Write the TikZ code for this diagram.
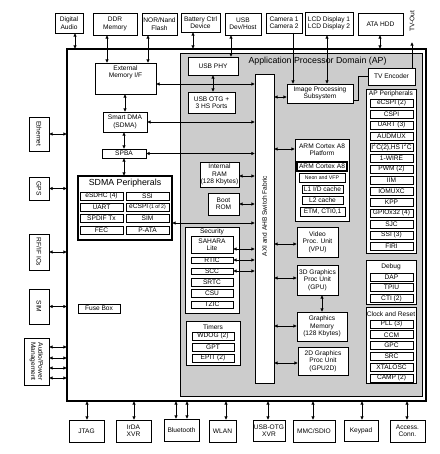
\documentclass[tikz,border=0pt]{standalone}
\usepackage{fontspec}
\setmainfont{Liberation Sans}
\usetikzlibrary{arrows.meta}
\newcommand\fs{\fontsize{6.6}{7.3}\selectfont}
\newcommand\fsmall{\fontsize{5.2}{6}\selectfont}
\newcommand\ftitle{\fontsize{8.8}{10}\selectfont}
\newcommand\B[7][]{\node[bx,minimum width={(#5)-(#3)},minimum height={(#6)-(#4)},#1] (#2) at ({((#3)+(#5))/2},{((#4)+(#6))/2}) {#7};}
\newcommand\R[7][]{\B[#1]{#2}{#3}{#4}{#5}{#6}{}\node[lbl,rotate=-90] (#2T) at (#2) {#7};}
\tikzset{
  bx/.style={draw,line width=0.7pt,fill=white,inner sep=0pt,outer sep=0pt,align=center,font=\fs},
  cell/.style={line width=0.7pt},
  thk/.style={line width=1.8pt},
  lbl/.style={inner sep=0pt,align=center,font=\fs},
  ttl/.style={inner sep=0pt,align=center,font=\ftitle},
  dar/.style={{Latex[length=3.6pt,width=3.6pt]}-{Latex[length=3.6pt,width=3.6pt]},line width=0.8pt},
  sar/.style={-{Latex[length=3.6pt,width=3.6pt]},line width=0.8pt},
  ln/.style={line width=0.8pt}
}
\begin{document}
\begin{tikzpicture}[x=1pt,y=-1pt]
\fill[white] (0,0) rectangle (439,454);
\useasboundingbox (0,0) rectangle (439,454);
% frames
\B[line width=2pt]{outer}{67}{49}{426}{401}{}
\B[fill=black!20,line width=0.7pt]{ap}{180}{53}{422}{396}{}
% top external
\B{da}{55}{13}{83}{33}{Digital\\Audio}
\B{ddr}{93}{13}{137}{35}{DDR\\Memory}
\B{nor}{142}{13}{177}{35}{NOR/Nand\\Flash}
\B{bat}{181}{13}{220}{32}{Battery Ctrl\\Device}
\B{usb}{225}{13}{261}{35}{USB\\Dev/Host}
\B{cam}{266}{13}{302}{33}{Camera 1\\Camera 2}
\B{lcd}{305}{12}{353}{35}{LCD Display 1\\LCD Display 2}
\B{ata}{358}{13}{403}{35}{ATA HDD}
\node[lbl,rotate=90] (tvoT) at (412,21) {TV-Out};
% left external
\R{eth}{29}{117}{49}{151}{Ethernet}
\R{gps}{29}{177}{49}{200}{GPS}
\R{rf}{29}{234}{49}{270}{RF/IF ICs}
\R{sim}{29}{289}{49}{324}{SIM}
\R{apm}{24}{338}{49}{385}{Audio/Power\\Management}
% bottom external
\B{jtag}{69}{420}{104}{442}{JTAG}
\B{irda}{116}{420}{151}{442}{IrDA\\XVR}
\B{bt}{164}{419}{199}{441}{Bluetooth}
\B{wlan}{209}{420}{236}{442}{WLAN}
\B{usbx}{253}{420}{285}{441}{USB-OTG\\XVR}
\B{mmc}{293}{420}{335}{442}{MMC/SDIO}
\B{kp}{344}{420}{378}{441}{Keypad}
\B{acc}{390}{420}{425}{442}{Access.\\Conn.}
% left inner
\B{emi}{95}{63}{156}{94}{}
\node[lbl] (emiT) at (125.5,72) {External\\Memory I/F};
\B{sdma}{103}{112}{147}{132}{Smart DMA\\(SDMA)}
\B{spba}{102}{149}{146}{158}{SPBA}
\B[thk]{sdp}{78}{176}{172}{240}{}
\node[ttl] (sdpT) at (125,183.5) {SDMA Peripherals};
\B[cell]{p1}{80}{192}{123}{200}{eSDHC (4)}
\B[cell]{p2}{126}{192}{169}{200}{SSI}
\B[cell]{p3}{80}{203}{123}{211}{UART}
\B[cell]{p4}{126}{203}{169}{211}{eCSPI\,{\fsmall(1 of 2)}}
\B[cell]{p5}{80}{214}{123}{222}{SPDIF Tx}
\B[cell]{p6}{126}{214}{169}{222}{SIM}
\B[cell]{p7}{80}{226}{123}{234}{FEC}
\B[cell]{p8}{126}{226}{169}{234}{P-ATA}
\B{fuse}{78}{304}{120}{313}{Fuse Box}
% fabric
\B{fab}{255}{74}{274}{383}{}
\node[lbl,rotate=90] (fabT) at (264.5,216) {AXI and AHB Switch Fabric};
% gray area left
\B{usbphy}{188}{57}{238}{75}{USB PHY}
\B{usbotg}{188}{92}{235}{113}{USB OTG +\\3 HS Ports}
\B{iram}{200}{162}{239}{187}{Internal\\RAM\\(128 Kbytes)}
\B{brom}{208}{193}{239}{215}{Boot\\ROM}
\B{sec}{185}{227}{239}{313}{}
\node[lbl] (secT) at (212,232) {Security};
\B[cell]{sah}{191}{236}{233}{253}{SAHARA\\Lite}
\B[cell]{rtic}{191}{257}{233}{263}{RTIC}
\B[cell]{scc}{191}{268}{233}{274}{SCC}
\B[cell]{srtc}{191}{278}{233}{286}{SRTC}
\B[cell]{csu}{191}{289}{233}{297}{CSU}
\B[cell]{tzic}{191}{301}{233}{308}{TZIC}
\B{tim}{186}{321}{240}{365}{}
\node[lbl] (timT) at (213,327) {Timers};
\B[cell]{wdog}{192}{332}{234}{340}{WDOG (2)}
\B[cell]{gpt}{192}{343}{234}{351}{GPT}
\B[cell]{epit}{192}{354}{234}{362}{EPIT (2)}
% gray area right
\B{ipu}{287}{84}{353}{103}{Image Processing\\Subsystem}
\B{tve}{368}{68}{415}{85}{TV Encoder}
\B{arm}{295}{139}{349}{221}{}
\node[lbl] (armT) at (322,150) {ARM Cortex A8\\Platform};
\B[line width=1.4pt]{a1}{297}{162}{347}{171}{ARM Cortex A8}
\B[cell]{a2}{299}{173}{345}{182}{\fsmall Neon and VFP}
\B[cell]{a3}{302}{185}{343}{193}{L1 I/D cache}
\B[cell]{a4}{302}{196}{343}{204}{L2 cache}
\B[cell]{a5}{300}{207}{345}{216}{ETM, CTI0,1}
\B{vpu}{297}{227}{338}{257}{Video\\Proc. Unit\\(VPU)}
\B{gpu}{297}{265}{338}{295}{3D Graphics\\Proc Unit\\(GPU)}
\B{gmem}{297}{312}{347}{341}{Graphics\\Memory\\(128 Kbytes)}
\B{gpu2d}{298}{347}{348}{375}{2D Graphics\\Proc Unit\\(GPU2D)}
% AP peripherals
\B{app}{366}{89}{416}{253}{}
\node[lbl] (appT) at (391,94) {AP Peripherals};
\foreach \t [count=\i from 0] in {{eCSPI (2)},{CSPI},{UART (3)},{AUDMUX},{I\textsuperscript{2}C(2),HS I\textsuperscript{2}C},{1-WIRE},{PWM (2)},{IIM},{IOMUXC},{KPP},{GPIOx32 (4)},{SJC},{SSI (3)},{FIRI}}
  {\B[cell]{apc\i}{370}{99+11*\i}{413}{107+11*\i}{\t}}
\B{dbg}{366}{260}{416}{304}{}
\node[lbl] (dbgT) at (391,267) {Debug};
\foreach \t [count=\i from 0] in {{DAP},{TPIU},{CTI (2)}}
  {\B[cell]{dbc\i}{370}{273+10.7*\i}{413}{281+10.7*\i}{\t}}
\B{clk}{366}{307}{416}{383}{}
\node[lbl] (clkT) at (391,314) {Clock and Reset};
\foreach \t [count=\i from 0] in {{PLL (3)},{CCM},{GPC},{SRC},{XTALOSC},{CAMP (2)}}
  {\B[cell]{clc\i}{370}{320+10.8*\i}{413}{328+10.8*\i}{\t}}
% title
\node[ttl] (aptitle) at (317.5,61) {Application Processor Domain (AP)};
% top connectors
\draw[dar] (75,0 |- da.south) -- (75,0 |- outer.north);
\draw[dar] (107,0 |- ddr.south) -- (107,0 |- emi.north);
\draw[dar] (148,0 |- nor.south) -- (148,0 |- emi.north);
\draw[dar] (193,0 |- bat.south) -- (193,0 |- outer.north);
\draw[dar] (231,0 |- usb.south) -- (231,0 |- usbphy.north);
\draw[sar] (293,0 |- cam.south) -- (293,0 |- ipu.north);
\draw[dar] (327,0 |- lcd.south) -- (327,0 |- ipu.north);
\draw[dar] (380,0 |- ata.south) -- (380,0 |- outer.north);
\coordinate (tvo) at (412,42);
\draw[sar] (412,0 |- tve.north) -- (tvo);
\draw[ln] (ipu.east |- 0,100) -- (358,100) -- (358,76) -- (tve.west |- 0,76);
% left connectors
\draw[dar] (eth.east) -- (eth.east -| outer.west);
\draw[dar] (gps.east) -- (gps.east -| outer.west);
\draw[dar] (rf.east) -- (rf.east -| outer.west);
\draw[dar] (sim.east) -- (sim.east -| outer.west);
\foreach \yy in {347,358,368,378} \draw[dar] (apm.east |- 0,\yy) -- (outer.west |- 0,\yy);
% bottom connectors
\foreach \xx/\nn in {87/jtag,134/irda,176/bt,187/bt,226/wlan,268/usbx,313/mmc,362/kp,407/acc}
  \draw[dar] (\xx,0 |- outer.south) -- (\xx,0 |- \nn.north);
% inner left
\draw[dar] (125,0 |- emi.south) -- (125,0 |- sdma.north);
\draw[dar] (124,0 |- sdma.south) -- (124,0 |- spba.north);
\draw[dar] (124,0 |- spba.south) -- (124,0 |- sdp.north);
\draw[dar] (emi.east |- 0,84) -- (fab.west |- 0,84);
\draw[dar] (sdma.east) -- (sdma.east -| fab.west);
\draw[dar] (spba.east) -- (spba.east -| fab.west);
\draw[dar] (sdp.east |- 0,223) -- (fab.west |- 0,223);
\draw[dar] (iram.east |- 0,176) -- (fab.west |- 0,176);
\draw[dar] (brom.east) -- (brom.east -| fab.west);
\draw[dar] (sah.east |- 0,249) -- (fab.west |- 0,249);
\draw[dar] (rtic.east) -- (rtic.east -| fab.west);
\draw[dar] (scc.east) -- (scc.east -| fab.west);
\draw[dar] (usbphy.south -| 213,0) -- (usbotg.north -| 213,0);
% right of fabric
\draw[dar] (fab.east |- 0,97) -- (ipu.west |- 0,97);
\draw[dar] (fab.east |- 0,149) -- (arm.west |- 0,149);
\draw[dar] (fab.east |- 0,244) -- (vpu.west |- 0,244);
\draw[dar] (fab.east |- 0,278) -- (gpu.west |- 0,278);
\draw[dar] (fab.east |- 0,326) -- (gmem.west |- 0,326);
\draw[dar] (fab.east |- 0,363) -- (gpu2d.west |- 0,363);
\draw[dar] (322,0 |- gpu.south) -- (322,0 |- gmem.north);
\end{tikzpicture}
\end{document}
